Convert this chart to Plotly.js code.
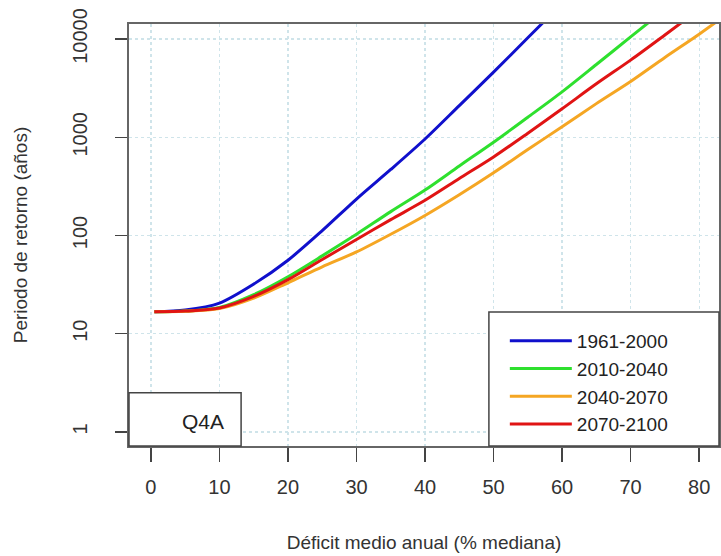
<!DOCTYPE html>
<html>
<head>
<meta charset="utf-8">
<script src="https://cdn.plot.ly/plotly-3.0.1.min.js"></script>
<style>html,body{margin:0;padding:0;background:#fff;}#chart{width:721px;height:556px;}</style>
</head>
<body>
<div id="chart"></div>
<script>
// Data
const seriesNames = ["1961-2000", "2010-2040", "2040-2070", "2070-2100"];
const seriesColors = ["#1010cc", "#2ee02e", "#f5a623", "#e01414"];
const deficitBlue   = [0.5, 5, 10, 15, 20, 25, 30, 35, 40, 45, 50, 55, 60];
const periodBlue    = [16.7, 17.4, 20.5, 32, 56, 112, 235, 470, 960, 2100, 4600, 10300, 23000];
const deficitGreen  = [0.5, 5, 10, 15, 20, 25, 30, 35, 40, 45, 50, 55, 60, 65, 70, 75];
const periodGreen   = [16.7, 17, 18.5, 25, 38, 62, 103, 175, 290, 510, 890, 1600, 2900, 5500, 10500, 20000];
const deficitOrange = [0.5, 5, 10, 15, 20, 25, 30, 35, 40, 45, 50, 55, 60, 65, 70, 75, 80, 85];
const periodOrange  = [16.7, 16.9, 18, 23, 33, 48, 68, 103, 160, 260, 435, 750, 1280, 2200, 3700, 6500, 11200, 20000];
const deficitRed    = [0.5, 5, 10, 15, 20, 25, 30, 35, 40, 45, 50, 55, 60, 65, 70, 75, 80];
const periodRed     = [16.7, 17, 18.3, 24, 35.5, 57, 91, 145, 228, 380, 630, 1100, 1950, 3500, 6100, 11000, 20000];
const xTickVals = [0, 10, 20, 30, 40, 50, 60, 70, 80];
const yTickVals = [1, 10, 100, 1000, 10000];
const yTickText = ["1", "10", "100", "1000", "10000"];
const panelLabel = "Q4A";

const xs = [deficitBlue, deficitGreen, deficitOrange, deficitRed];
const ys = [periodBlue, periodGreen, periodOrange, periodRed];

const traces = seriesNames.map((n, i) => ({
  type: "scatter", mode: "lines", name: n,
  x: xs[i], y: ys[i],
  line: {color: seriesColors[i], width: 3, shape: "spline", smoothing: 0.8}
}));

const font = "Liberation Sans, Arial, sans-serif";
const layout = {
  width: 721, height: 556,
  margin: {l: 129, r: 2, t: 24, b: 110},
  paper_bgcolor: "#fff", plot_bgcolor: "#fff",
  font: {family: font, color: "#333", size: 20},
  showlegend: true,
  legend: {
    x: 0.637, y: 0.294, xanchor: "left", yanchor: "top",
    bgcolor: "rgba(0,0,0,0)", borderwidth: 0,
    font: {family: font, size: 19, color: "#222"},
    itemwidth: 62, traceorder: "normal"
  },
  xaxis: {
    range: [-3.2, 82.9], tickvals: xTickVals, ticks: "outside", ticklen: 14, tickwidth: 1.5, tickcolor: "#444",
    ticklabelstandoff: 8,
    showline: true, mirror: true, linecolor: "#666", linewidth: 2,
    showgrid: true, gridcolor: "#cfe4ea", griddash: "dot", gridwidth: 1.2, zeroline: false,
    tickfont: {size: 20, color: "#333"},
    title: {text: "Déficit medio anual (% mediana)", font: {size: 19, color: "#333"}, standoff: 39}
  },
  yaxis: {
    type: "log", range: [-0.143, 4.153], tickvals: yTickVals, ticktext: yTickText,
    ticks: "outside", ticklen: 12, tickwidth: 1.5, tickcolor: "#444", tickangle: -90,
    ticklabelstandoff: 20,
    showline: true, mirror: true, linecolor: "#666", linewidth: 2,
    showgrid: true, gridcolor: "#cfe4ea", griddash: "dot", gridwidth: 1.2, zeroline: false,
    tickfont: {size: 20, color: "#333"},
    title: {text: "Periodo de retorno (años)", font: {size: 19, color: "#333"}, standoff: 36}
  },
  shapes: [
    {type: "rect", xref: "paper", yref: "paper", x0: 0.61, x1: 1, y0: 0, y1: 0.3175,
     fillcolor: "#fff", line: {color: "#444", width: 1.5}, layer: "above"},
    {type: "rect", xref: "paper", yref: "paper", x0: 0, x1: 0.19, y0: 0, y1: 0.126,
     fillcolor: "#fff", line: {color: "#444", width: 1.5}, layer: "above"}
  ],
  annotations: [
    {text: panelLabel, xref: "paper", yref: "paper", x: 0.125, y: 0.057, xanchor: "center", yanchor: "middle",
     showarrow: false, font: {family: font, size: 21, color: "#222"}}
  ]
};

Plotly.newPlot("chart", traces, layout, {displayModeBar: false, staticPlot: true});
</script>
</body>
</html>
